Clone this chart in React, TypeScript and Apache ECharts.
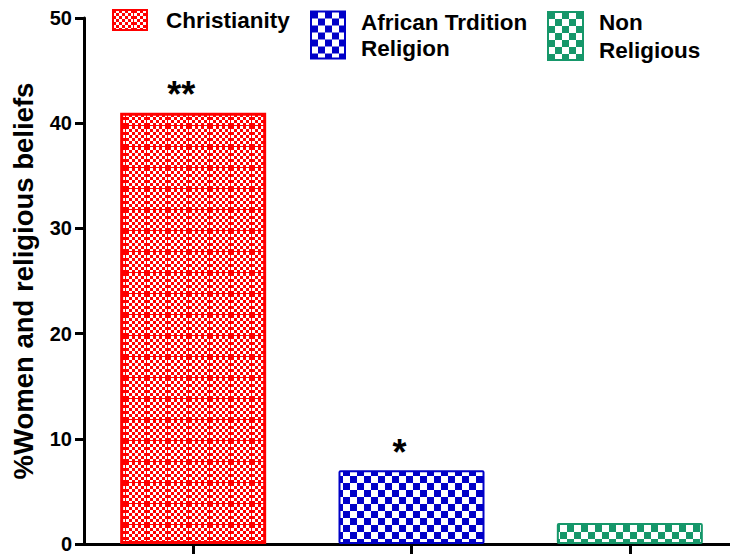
import React, { useEffect, useRef } from "react";
import * as echarts from "echarts";

const categories = ["Christianity", "African Trdition Religion", "Non Religious"];
const legendNames = ["Christianity", "African Trdition\nReligion", "Non\nReligious"];
const values = [41, 7, 2];
const significance = ["**", "*", ""];
const colors = ["#FF0000", "#0000C8", "#16976A"];
const yTicks = [0, 10, 20, 30, 40, 50];

const FONT = "'Liberation Sans', Arial, sans-serif";

function makePattern(color: string, cell: number, cells: number, lineWidth: number) {
  const size = cell * cells;
  const c = document.createElement("canvas");
  c.width = size;
  c.height = size;
  const ctx = c.getContext("2d")!;
  ctx.fillStyle = "#ffffff";
  ctx.fillRect(0, 0, size, size);
  ctx.fillStyle = color;
  for (let r = 0; r < cells; r++) {
    for (let k = 0; k < cells; k++) {
      if ((r + k) % 2 === 0) ctx.fillRect(k * cell, r * cell, cell, cell);
    }
  }
  if (lineWidth > 0) {
    ctx.fillRect(0, size - lineWidth, size, lineWidth);
    ctx.fillRect(size - lineWidth, 0, lineWidth, size);
  }
  return c;
}

export default function App() {
  const ref = useRef<HTMLDivElement>(null);
  useEffect(() => {
    if (!ref.current) return;
    const chart = echarts.init(ref.current, undefined, { renderer: "svg" });

    const patterns = [
      makePattern(colors[0], 3, 7, 1),
      makePattern(colors[1], 7, 2, 0),
      makePattern(colors[2], 7, 2, 0),
    ];
    const borderWidths = [3, 2, 2];

    const series = categories.map((cat, i) => ({
      type: "bar",
      name: legendNames[i],
      stack: "all",
      barWidth: 146,
      data: categories.map((c, j) =>
        j === i
          ? {
              value: values[j],
              label: {
                show: significance[j] !== "",
                position: "top",
                distance: 0,
                offset: [-12, 0],
                formatter: significance[j],
                fontSize: 36,
                fontWeight: "bold",
                color: "#000",
                fontFamily: FONT,
              },
            }
          : "-"
      ),
      itemStyle: {
        color: { image: patterns[i], repeat: "repeat" },
        borderColor: colors[i],
        borderWidth: borderWidths[i],
        borderRadius: i === 0 ? 0 : 1,
      },
    }));

    const legendTextBase = { fontSize: 22.5, fontWeight: "bold", color: "#000", fontFamily: FONT };

    chart.setOption({
      animation: false,
      grid: { left: 84, top: 18, width: 655, bottom: 10, containLabel: false, outerBoundsMode: "none" },
      legend: [
        {
          data: [legendNames[0]],
          left: 112,
          top: 7,
          padding: 0,
          itemWidth: 34,
          itemHeight: 20,
          icon: "rect",
          textStyle: { ...legendTextBase, lineHeight: 26, padding: [0, 0, 0, 14] },
        },
        {
          data: [legendNames[1]],
          left: 310,
          top: 9,
          padding: 0,
          itemWidth: 34,
          itemHeight: 47,
          icon: "rect",
          textStyle: { ...legendTextBase, lineHeight: 26, padding: [0, 0, 0, 11] },
        },
        {
          data: [legendNames[2]],
          left: 547,
          top: 8,
          padding: 0,
          itemWidth: 35,
          itemHeight: 48,
          icon: "rect",
          textStyle: { ...legendTextBase, lineHeight: 28, padding: [0, 0, 0, 11] },
        },
      ],
      xAxis: {
        type: "category",
        data: categories,
        axisLine: { lineStyle: { color: "#000", width: 3 } },
        axisTick: { show: true, alignWithLabel: true, length: 10, lineStyle: { color: "#000", width: 3 } },
        axisLabel: { show: false },
        splitLine: { show: false },
      },
      yAxis: {
        type: "value",
        min: yTicks[0],
        max: yTicks[yTicks.length - 1],
        interval: 10,
        name: "%Women and religious beliefs",
        nameLocation: "middle",
        nameRotate: 90,
        nameGap: 47,
        nameTextStyle: { fontSize: 27.5, fontWeight: "bold", color: "#000", fontFamily: FONT },
        axisLine: { show: true, lineStyle: { color: "#000", width: 3 } },
        axisTick: { show: true, length: 9, lineStyle: { color: "#000", width: 3 } },
        axisLabel: { margin: 12, fontSize: 20, fontWeight: "bold", color: "#000", fontFamily: FONT },
        splitLine: { show: false },
      },
      series,
    });
    return () => chart.dispose();
  }, []);
  return <div ref={ref} style={{ width: 730, height: 554, position: "absolute", left: 0, top: 0 }} />;
}
